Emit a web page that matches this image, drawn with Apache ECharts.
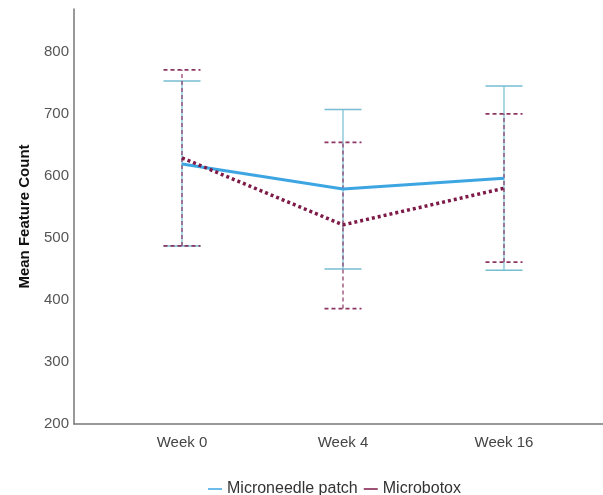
<!DOCTYPE html>
<html><head><meta charset="utf-8">
<script src="https://cdn.jsdelivr.net/npm/echarts@6/dist/echarts.min.js"></script>
<style>html,body{margin:0;padding:0;background:#fff}#c{width:603px;height:495px}</style>
</head><body><div id="c"></div>
<script>
const categories = ['Week 0', 'Week 4', 'Week 16'];
const yTicks = [200, 300, 400, 500, 600, 700, 800];
const patchMean = [619, 579, 596];
const patchLow = [487, 450, 448];
const patchHigh = [753, 707, 745];
const botoxMean = [629, 521, 580];
const botoxLow = [487, 386, 461];
const botoxHigh = [771, 654, 700];

const blue = '#3DA6E2', blueBar = '#74BDD2', maroon = '#7E1A48', maroonBar = '#8C3463';
const chart = echarts.init(document.getElementById('c'));
const idx = categories.map((c, i) => i);

function errItem(color, dash, width) {
  return function (params, api) {
    const x = api.value(0);
    const lo = api.coord([x, api.value(1)]);
    const hi = api.coord([x, api.value(2)]);
    const hw = 18.5;
    const style = { stroke: color, lineWidth: width, lineDash: dash, fill: null };
    return { type: 'group', children: [
      { type: 'line', shape: { x1: lo[0], y1: lo[1], x2: hi[0], y2: hi[1] }, style: Object.assign({}, style, {lineWidth: 1.2}) },
      { type: 'line', shape: { x1: hi[0] - hw, y1: hi[1], x2: hi[0] + hw, y2: hi[1] }, style },
      { type: 'line', shape: { x1: lo[0] - hw, y1: lo[1], x2: lo[0] + hw, y2: lo[1] }, style }
    ]};
  };
}

chart.setOption({
  animation: false,
  backgroundColor: '#fff',
  grid: { left: 74, right: 0, top: 9, bottom: 71 },
  xAxis: {
    type: 'value', min: -0.6708, max: 2.6149,
    axisLine: { show: true, onZero: false, lineStyle: { color: '#777', width: 1.5 } },
    axisTick: { show: false },
    splitLine: { show: false },
    axisLabel: { customValues: idx, formatter: v => categories[Math.round(v)] ?? '',
      color: '#444', fontSize: 15, fontFamily: 'Liberation Sans, Arial', margin: 11 }
  },
  yAxis: {
    type: 'value', min: 200, max: 869,
    name: 'Mean Feature Count', nameLocation: 'middle', nameGap: 42,
    nameTextStyle: { color: '#111', fontSize: 15, fontWeight: 'bold', fontFamily: 'Liberation Sans, Arial' },
    axisLine: { show: true, onZero: false, lineStyle: { color: '#777', width: 1.5 } },
    axisTick: { show: false },
    splitLine: { show: false },
    axisLabel: { customValues: yTicks, color: '#555', fontSize: 15, fontFamily: 'Liberation Sans, Arial', margin: 5 }
  },
  legend: {
    top: 476, left: 203,
    itemWidth: 14, itemHeight: 1.5, itemGap: 6, icon: 'rect',
    textStyle: { color: '#333', fontSize: 16, fontFamily: 'Liberation Sans, Arial' },
    data: ['Microneedle patch', 'Microbotox']
  },
  series: [
    { name: 'Microneedle patch', type: 'custom', renderItem: errItem(blueBar, null, 1.5), z: 2,
      data: idx.map(i => [i, patchLow[i], patchHigh[i]]), silent: true, color: blue },
    { name: 'Microbotox', type: 'custom', renderItem: errItem(maroonBar, [4, 3], 1.8), z: 3,
      data: idx.map(i => [i, botoxLow[i], botoxHigh[i]]), silent: true, color: maroon },
    { name: 'Microneedle patch', type: 'line', data: idx.map(i => [i, patchMean[i]]), symbol: 'none', z: 4,
      lineStyle: { color: blue, width: 3 }, itemStyle: { color: blue } },
    { name: 'Microbotox', type: 'line', data: idx.map(i => [i, botoxMean[i]]), symbol: 'none', z: 5,
      lineStyle: { color: maroon, width: 3.5, type: [3, 3] }, itemStyle: { color: maroon } }
  ]
});
</script></body></html>
